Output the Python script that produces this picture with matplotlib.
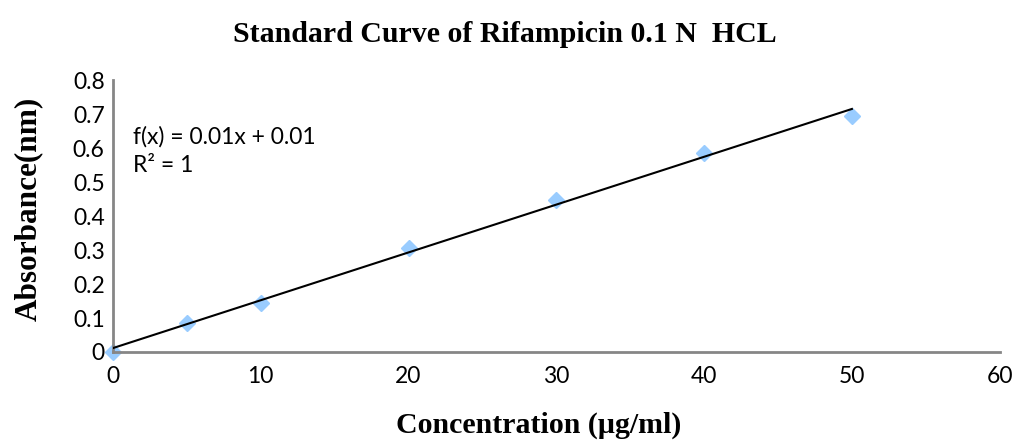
import matplotlib.pyplot as plt
import numpy as np

# rifampicin standard curve in 0.1 N HCl
conc = [0, 5, 10, 20, 30, 40, 50]
absorbance = [0.0, 0.085, 0.144, 0.306, 0.447, 0.586, 0.694]
x_ticks = [0, 10, 20, 30, 40, 50, 60]
y_ticks = [0, 0.1, 0.2, 0.3, 0.4, 0.5, 0.6, 0.7, 0.8]

slope, intercept = np.polyfit(conc, absorbance, 1)
fit_x = np.array([conc[0], conc[-1]])
fit_y = slope * fit_x + intercept

fig = plt.figure(figsize=(10.18, 4.45), dpi=100)
ax = fig.add_axes([0.111, 0.209, 0.871, 0.611])

ax.plot(conc, absorbance, linestyle='none', marker='D', markersize=8.5,
        color='#99CCFF', markeredgecolor='#99CCFF', zorder=2, clip_on=False)
ax.plot(fit_x, fit_y, color='black', linewidth=1.5, zorder=3)

ax.set_xlim(0, 60)
ax.set_ylim(0, 0.8)
ax.set_xticks(x_ticks)
ax.set_yticks(y_ticks)
ax.set_xticklabels([str(t) for t in x_ticks])
ax.set_yticklabels(['0'] + [f'{t:.1f}' for t in y_ticks[1:]])

tick_font = {'family': 'Lato', 'size': 16.5}
for lbl in ax.get_xticklabels() + ax.get_yticklabels():
    lbl.set_fontfamily('Lato')
    lbl.set_fontsize(16.5)
ax.tick_params(length=0)
ax.tick_params(axis='y', pad=6)
ax.tick_params(axis='x', pad=10)

for side in ('top', 'right'):
    ax.spines[side].set_visible(False)
for side in ('left', 'bottom'):
    ax.spines[side].set_color('#868686')
    ax.spines[side].set_linewidth(2)

ax.text(0.022, 0.83, 'f(x) = 0.01x + 0.01\nR² = 1', transform=ax.transAxes,
        fontdict=tick_font, va='top', ha='left', linespacing=1.4)

serif = {'family': 'Liberation Serif', 'weight': 'bold', 'size': 21.5}
fig.text(0.496, 0.922, 'Standard Curve of Rifampicin 0.1 N  HCL', ha='center',
         va='center', fontdict=serif)
fig.text(0.529, 0.045, 'Concentration (µg/ml)', ha='center', va='center',
         fontdict=serif)
fig.text(0.0275, 0.53, 'Absorbance(nm)', ha='center', va='center',
         rotation=90, fontdict={**serif, 'size': 22.5})

fig.savefig('out.png', dpi=100)
